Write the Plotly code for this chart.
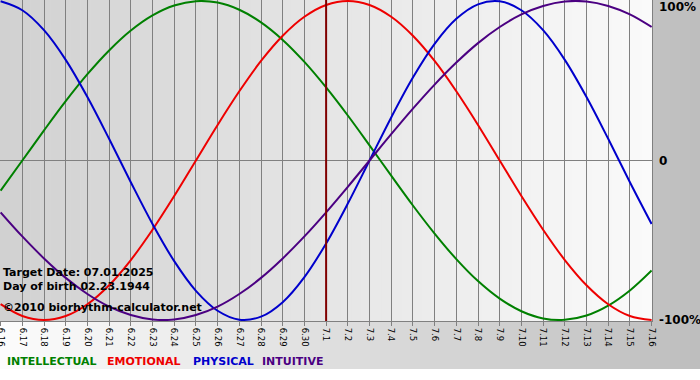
import plotly.graph_objects as go

# ---- data ----
day_labels = ["6.16", "6.17", "6.18", "6.19", "6.20", "6.21", "6.22", "6.23", "6.24", "6.25",
              "6.26", "6.27", "6.28", "6.29", "6.30", "7.1", "7.2", "7.3", "7.4", "7.5",
              "7.6", "7.7", "7.8", "7.9", "7.10", "7.11", "7.12", "7.13", "7.14", "7.15", "7.16"]

intellectual = [-18.9, 0.0, 18.9, 37.2, 54.1, 69.0, 81.5, 91.0, 97.2, 99.9,
                99.0, 94.5, 86.6, 75.6, 61.8, 45.8, 28.2, 9.5, -9.5, -28.2,
                -45.8, -61.8, -75.6, -86.6, -94.5, -99.0, -99.9, -97.2, -91.0, -81.5, -69.0]

emotional = [-90.1, -97.5, -100.0, -97.5, -90.1, -78.2, -62.4, -43.4, -22.3, 0.0,
             22.3, 43.4, 62.4, 78.2, 90.1, 97.5, 100.0, 97.5, 90.1, 78.2,
             62.4, 43.4, 22.3, 0.0, -22.3, -43.4, -62.4, -78.2, -90.1, -97.5, -100.0]

physical = [99.8, 94.2, 81.7, 63.1, 39.8, 13.6, -13.6, -39.8, -63.1, -81.7,
            -94.2, -99.8, -97.9, -88.8, -73.1, -52.0, -27.0, 0.0, 27.0, 52.0,
            73.1, 88.8, 97.9, 99.8, 94.2, 81.7, 63.1, 39.8, 13.6, -13.6, -39.8]

intuitive = [-32.5, -47.6, -61.4, -73.6, -83.7, -91.6, -96.9, -99.7, -99.7, -96.9,
             -91.6, -83.7, -73.6, -61.4, -47.6, -32.5, -16.5, 0.0, 16.5, 32.5,
             47.6, 61.4, 73.6, 83.7, 91.6, 96.9, 99.7, 99.7, 96.9, 91.6, 83.7]

series_names = ["INTELLECTUAL", "EMOTIONAL", "PHYSICAL", "INTUITIVE"]
target_day = "7.1"
target_text = "Target Date: 07.01.2025"
birth_text = "Day of birth 02.23.1944"
credit_text = "\u00a92010 biorhythm-calculator.net"
y_tick_vals = [100, 0, -100]
y_tick_text = ["100%", "0", "-100%"]

# ---- style ----
W, H = 700, 380
ML, MR, MT, MB = 0, 48, 0, 59
PW, PH = W - ML - MR, H - MT - MB
colors = {"INTELLECTUAL": "#008000", "EMOTIONAL": "#ee0000",
          "PHYSICAL": "#0000cc", "INTUITIVE": "#4b0082"}
FONT = "DejaVu Sans"

fig = go.Figure()

values = {"INTELLECTUAL": intellectual, "EMOTIONAL": emotional,
          "PHYSICAL": physical, "INTUITIVE": intuitive}
for name in series_names:
    fig.add_trace(go.Scatter(
        x=day_labels, y=values[name], mode="lines", name=name,
        line=dict(color=colors[name], width=2, shape="spline", smoothing=1.0),
        hoverinfo="skip", showlegend=False))

shapes = []


def lerp(c0, c1, t):
    return int(round(c0 + (c1 - c0) * t))


# outer panel gradient (light left -> gray right)
n_out = 70
panel_bottom_px = 369
for i in range(n_out):
    t = i / (n_out - 1)
    g = lerp(0xfc, 0xbe, t)
    shapes.append(dict(type="rect", xref="paper", yref="paper",
                       x0=(i * W / n_out - ML) / PW, x1=((i + 1) * W / n_out - ML + 0.5) / PW,
                       y0=1 - panel_bottom_px / PH, y1=1.0 + MT / PH,
                       fillcolor=f"rgb({g},{g},{g})", line=dict(width=0), layer="below"))
# plot area gradient (gray left -> light right)
n_in = 65
for i in range(n_in):
    t = i / (n_in - 1)
    g = lerp(0xd1, 0xfa, t)
    shapes.append(dict(type="rect", xref="paper", yref="paper",
                       x0=i / n_in, x1=(i + 1) / n_in + 0.001, y0=0, y1=1,
                       fillcolor=f"rgb({g},{g},{g})", line=dict(width=0), layer="below"))

# target date line
ti = day_labels.index(target_day)
shapes.append(dict(type="line", xref="x", yref="paper", x0=ti, x1=ti, y0=0, y1=1,
                   line=dict(color="#800000", width=2), layer="above"))

annotations = []
for txt, py in [(target_text, 272), (birth_text, 286), (credit_text, 307)]:
    annotations.append(dict(text=txt, xref="paper", yref="paper", x=0, xshift=1,
                            y=1 - py / PH, xanchor="left", yanchor="middle",
                            showarrow=False,
                            font=dict(family=FONT, size=11, color="#000000", weight="bold")))

legend_x = {"INTELLECTUAL": 5, "EMOTIONAL": 105, "PHYSICAL": 191, "INTUITIVE": 260}
for name in series_names:
    annotations.append(dict(text=name, xref="paper", yref="paper", x=0, xshift=legend_x[name],
                            y=1 - 362 / PH, xanchor="left", yanchor="middle",
                            showarrow=False,
                            font=dict(family=FONT, size=11, color=colors[name], weight="bold")))

for v, t in zip(y_tick_vals, y_tick_text):
    annotations.append(dict(text=t, xref="paper", yref="y", x=1, xshift=5, y=v,
                            yshift=3 if v == 100 else 0,
                            xanchor="left", yanchor="top" if v == 100 else "middle",
                            showarrow=False,
                            font=dict(family=FONT, size=12, color="#000000", weight="bold")))

fig.update_layout(
    width=W, height=H,
    margin=dict(l=ML, r=MR, t=MT, b=MB, pad=0, autoexpand=False),
    paper_bgcolor="#ffffff", plot_bgcolor="rgba(0,0,0,0)",
    shapes=shapes, annotations=annotations,
    xaxis=dict(type="category", range=[-0.028, 30.018], automargin=False,
               tickmode="array", tickvals=day_labels, ticktext=day_labels,
               tickangle=90, ticks="outside", ticklen=4, tickcolor="#808080",
               tickfont=dict(family=FONT, size=8.5, color="#000000"),
               showgrid=True, gridcolor="#808080", gridwidth=1,
               showline=True, mirror=True, linecolor="#808080", linewidth=1,
               zeroline=False, fixedrange=True),
    yaxis=dict(range=[-100.63, 100.63], tickvals=[0], showticklabels=False, automargin=False,
               showgrid=True, gridcolor="#808080", gridwidth=1, zeroline=False,
               showline=True, mirror=True, linecolor="#808080", linewidth=1,
               fixedrange=True),
)

fig.write_html("out.html", config={"displayModeBar": False},
               post_script="document.body.style.margin='0px';document.body.style.padding='0px';")
